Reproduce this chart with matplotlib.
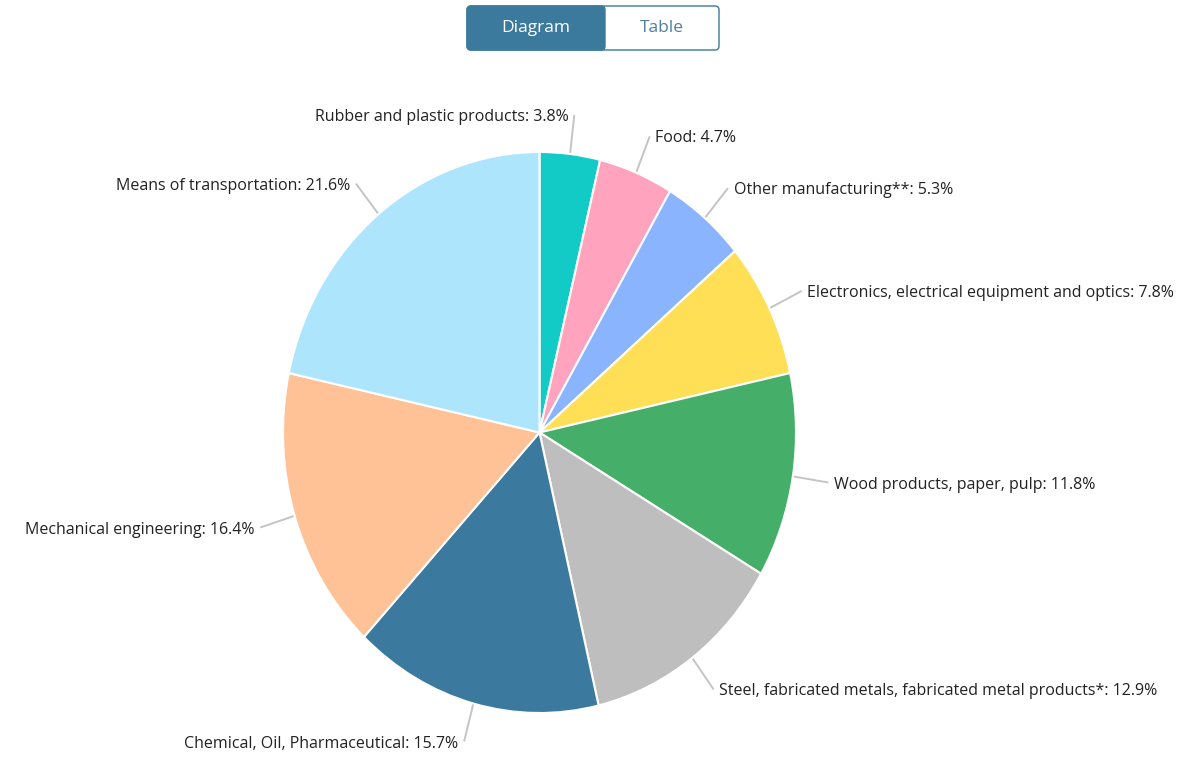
import numpy as np
import matplotlib
matplotlib.use("Agg")
import matplotlib.pyplot as plt
from matplotlib.patches import FancyBboxPatch
from matplotlib.transforms import offset_copy

plt.rcParams['font.family'] = ['Open Sans', 'DejaVu Sans']

# shares in percent, clockwise from the top
sectors = ["Rubber and plastic products", "Food", "Other manufacturing**",
           "Electronics, electrical equipment and optics",
           "Wood products, paper, pulp",
           "Steel, fabricated metals, fabricated metal products*",
           "Chemical, Oil, Pharmaceutical", "Mechanical engineering",
           "Means of transportation"]
shares = [3.8, 4.7, 5.3, 7.8, 11.8, 12.9, 15.7, 16.4, 21.6]
colors = ["#12cbc7", "#ffa3be", "#8bb4ff", "#ffdf55", "#45af69",
          "#bebebe", "#3b7a9e", "#ffc297", "#ade5fd"]

W, H = 1184, 758
fig = plt.figure(figsize=(W / 100, H / 100), dpi=100)

# pie axes (unit radius, the original is stretched a bit vertically)
cx, cy, rx, ry = 539.5, 432.5, 256.5, 280.5
ax = fig.add_axes([0, 0, 1, 1])
wedges, _ = ax.pie(shares, colors=colors, startangle=90, counterclock=False,
                   radius=1, wedgeprops=dict(edgecolor="white", linewidth=1.5))
ax.set_aspect("auto")
ax.set_xlim(-cx / rx, (W - cx) / rx)
ax.set_ylim((cy - H) / ry, cy / ry)
ax.axis("off")

for w, name, val in zip(wedges, sectors, shares):
    mid = np.deg2rad((w.theta1 + w.theta2) / 2)
    c, s = np.cos(mid), np.sin(mid)
    ax.plot([c * 1.0, c * 1.14], [s * 1.0, s * 1.14], color="#c4c4c4", lw=1.4,
            solid_capstyle="butt", zorder=0)
    if c > 0.2:
        ha, dx = "left", 4
    else:
        ha, dx = "right", -4
    tr = offset_copy(ax.transData, fig=fig, x=dx, y=-1.5, units="points")
    ax.text(c * 1.14, s * 1.14, f"{name}: {val}%", transform=tr, ha=ha,
            va="center", fontsize=11.5, color="#222222")

# toggle buttons on top
bx = fig.add_axes([0, 0, 1, 1])
bx.set_xlim(0, W)
bx.set_ylim(H, 0)
bx.axis("off")
bx.patch.set_alpha(0)
bx.add_patch(FancyBboxPatch((467, 6), 252, 44, boxstyle="round,pad=0,rounding_size=4",
                            facecolor="white", edgecolor="#3b799d", lw=1))
bx.add_patch(FancyBboxPatch((467, 6), 138, 44, boxstyle="round,pad=0,rounding_size=4",
                            facecolor="#3b799d", edgecolor="#3b799d", lw=1))
bx.add_patch(plt.Rectangle((595, 6), 10, 44, facecolor="#3b799d", edgecolor="none"))
bx.text(536, 28, "Diagram", ha="center", va="center", fontsize=12.5, color="white")
bx.text(662, 28, "Table", ha="center", va="center", fontsize=12.5, color="#4f7f9e")

fig.savefig("out.png", dpi=100)
